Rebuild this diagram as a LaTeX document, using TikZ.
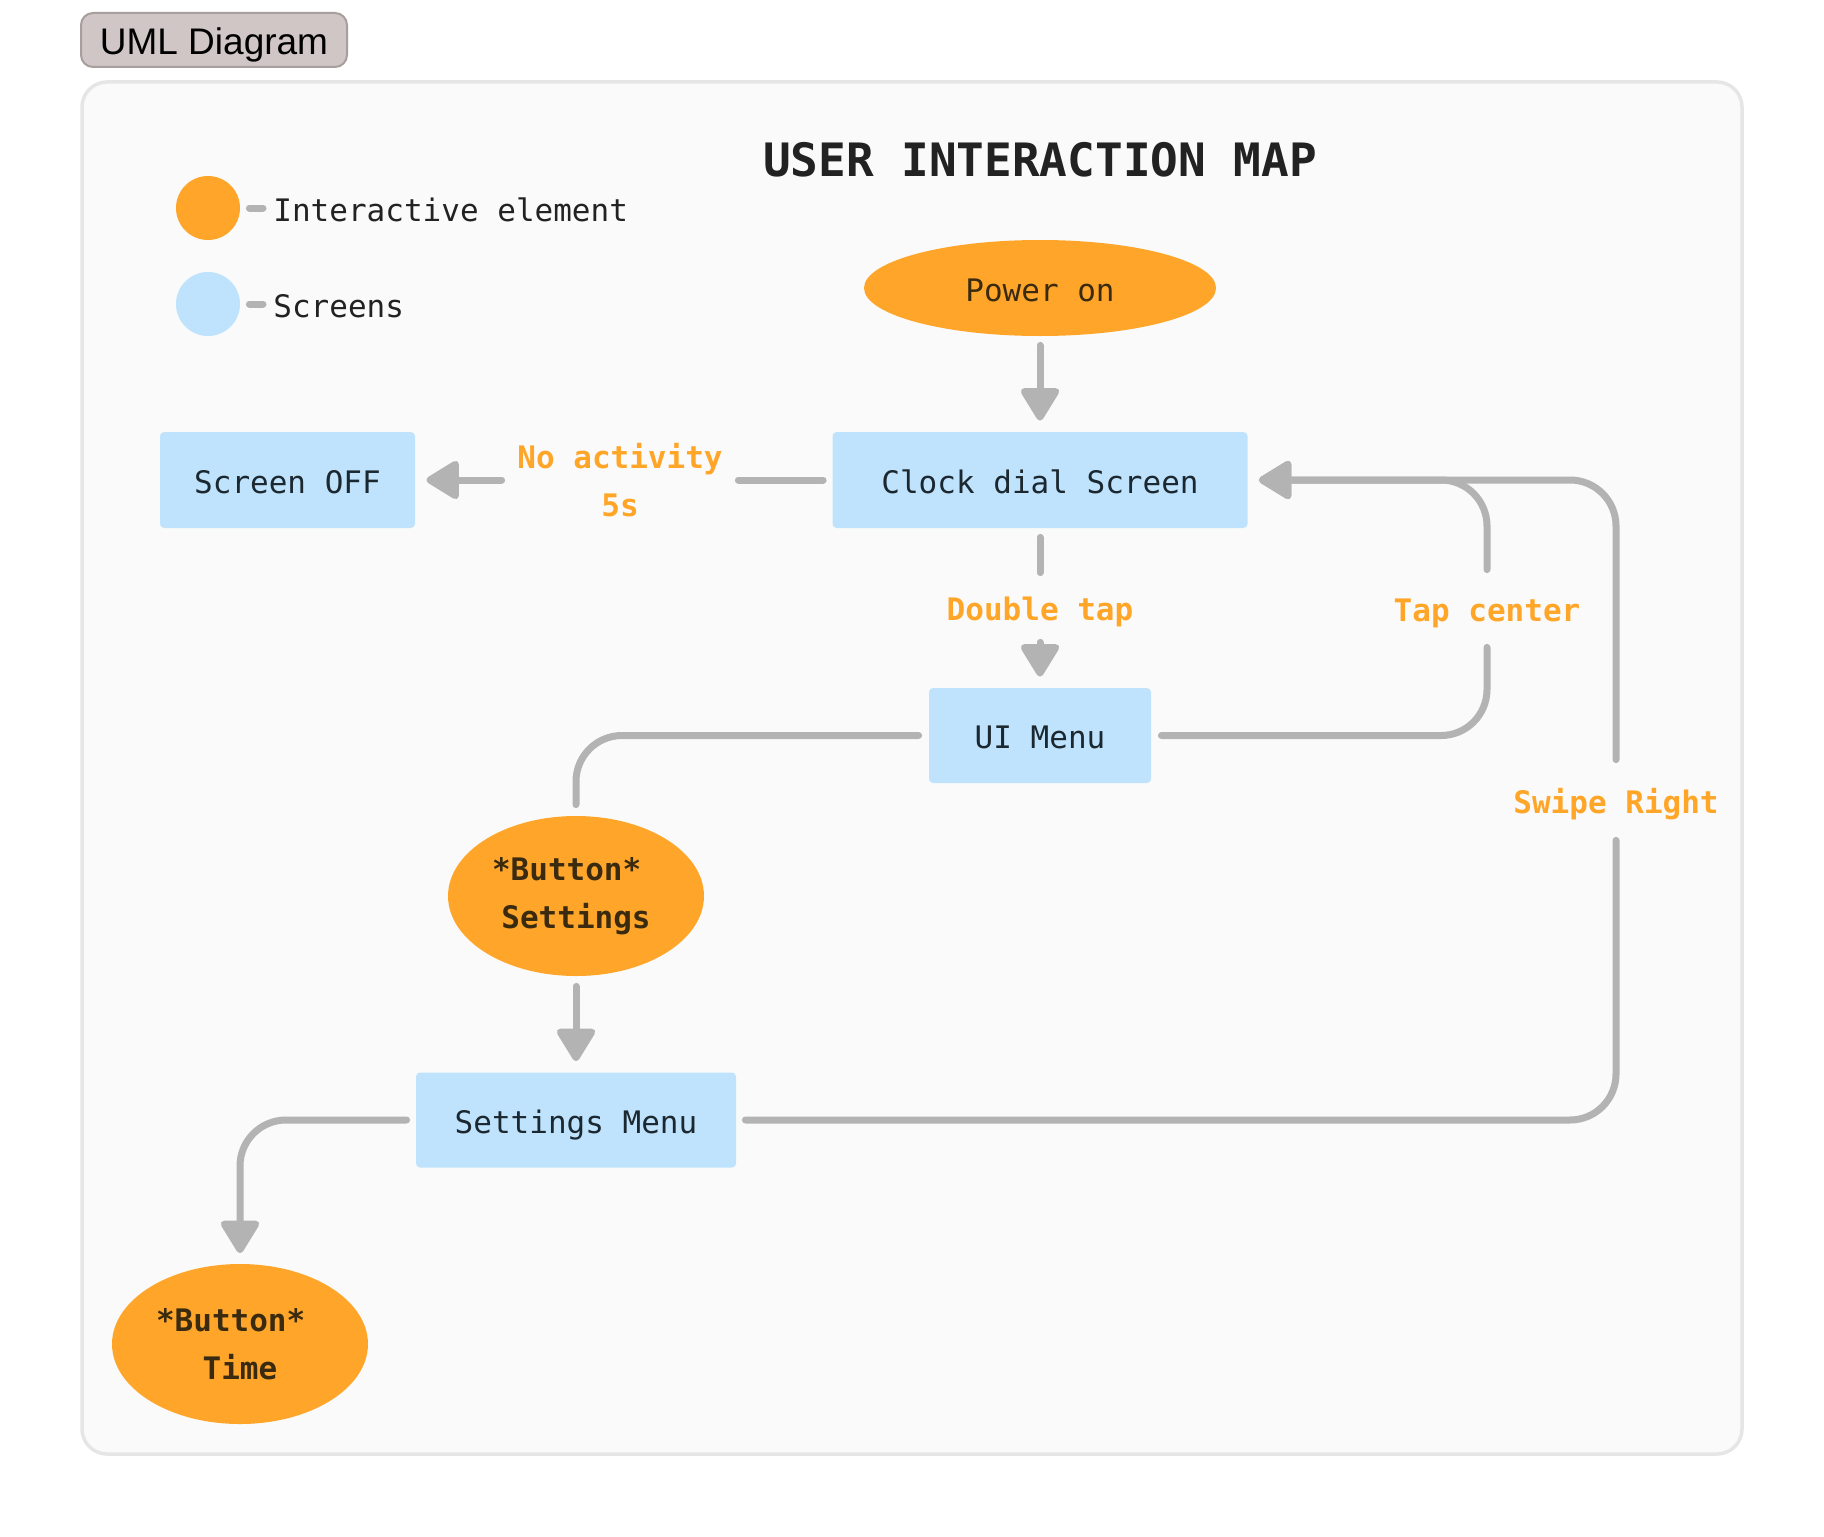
\documentclass[tikz,border=0pt]{standalone}
\usepackage{fontspec}
\setmonofont{DejaVu Sans Mono}
\newfontfamily\tabfont{Liberation Sans}
\usepackage{tikz}
\usetikzlibrary{
  arrows.meta,%
  % ellipse nodes
  shapes.geometric,%
  calc
}
\definecolor{panelbg}{HTML}{FAFAFA}
\definecolor{panelline}{HTML}{E6E6E6}
\definecolor{tabfill}{HTML}{D1C6C6}
\definecolor{tabline}{HTML}{A99E9E}
\definecolor{actorange}{HTML}{FFA62A}
\definecolor{lblorange}{HTML}{FFA629}
\definecolor{screenblue}{HTML}{BFE3FD}
\definecolor{linkgray}{HTML}{B3B3B3}
\definecolor{inktext}{HTML}{222222}
\definecolor{screentext}{HTML}{1C2830}
\definecolor{acttext}{HTML}{3A2A10}

\tikzset{>={Triangle[length=18pt, width=21pt, round]}}
\tikzset{font=\ttfamily\fontsize{15.5}{24}\selectfont}
\tikzset{
  panel/.style={fill=panelbg, draw=panelline, line width=1.75pt, rounded corners=12.5pt},
  tab/.style={rectangle, rounded corners=6pt, fill=tabfill, draw=tabline, line width=1pt,
    minimum width=133pt, minimum height=27pt, inner sep=0pt,
    font=\tabfont\fontsize{18.5}{20}\selectfont, text height=15pt, text depth=0pt},
  title/.style={text=inktext, inner sep=0pt, font=\ttfamily\bfseries\fontsize{23}{28}\selectfont},
  keydot/.style={circle, minimum size=32pt, inner sep=0pt},
  keytext/.style={text=inktext, inner sep=0pt, anchor=west, text height=14pt, text depth=1pt},
  link/.style={draw=linkgray, line width=3.5pt, line cap=round, rounded corners=23pt},
  screen/.style={rectangle, rounded corners=2pt, fill=screenblue, text=screentext,
    inner sep=0pt, text height=14pt, text depth=1pt},
  action/.style={ellipse, fill=actorange, text=acttext, inner sep=0pt, align=center,
    font=\ttfamily\bfseries\fontsize{15.5}{24}\selectfont},
  lbl/.style={text=lblorange, inner sep=0pt, font=\ttfamily\bfseries\fontsize{15.5}{24}\selectfont},
  gap/.style={text height=14pt, text depth=1pt}
}

\begin{document}
\begin{tikzpicture}[x=0.5pt, y=-0.5pt]
  \useasboundingbox (0,0) rectangle (1824,1536);
  \draw[panel] (82,82) rectangle (1742,1454);
  \node[tab] (tab) at (214,40) {UML Diagram};
  \node[title, anchor=base] (title) at (1040,176) {USER INTERACTION MAP};

  % legend
  \node[keydot, fill=actorange] (keyAct) at (208,208) {};
  \node[keytext] (keyActTxt) at (273,208) {Interactive element};
  \node[keydot, fill=screenblue] (keyScr) at (208,304) {};
  \node[keytext] (keyScrTxt) at (273,304) {Screens};
  \draw[link, shorten <=4.5pt, shorten >=5pt] (keyAct.east) -- (keyActTxt.west);
  \draw[link, shorten <=4.5pt, shorten >=5pt] (keyScr.east) -- (keyScrTxt.west);

  % states
  \node[action, minimum width=176pt, minimum height=48pt, font=\ttfamily\fontsize{15.5}{24}\selectfont,
    text height=14pt, text depth=1pt] (power) at (1040,288) {Power on};
  \node[screen, minimum width=207.5pt, minimum height=48pt] (clock) at (1040,480) {Clock dial Screen};
  \node[screen, minimum width=127.5pt, minimum height=48pt] (off) at (287.5,480) {Screen OFF};
  \node[screen, minimum width=111pt, minimum height=47.5pt] (ui) at (1040,735.5) {UI Menu};
  \node[action, minimum width=128pt, minimum height=80pt] (setBtn) at (576,896) {*Button*\hphantom{x}\\Settings};
  \node[screen, minimum width=160pt, minimum height=47.5pt] (setMenu) at (576,1120) {Settings Menu};
  \node[action, minimum width=128pt, minimum height=80pt] (timeBtn) at (240,1344) {*Button*\hphantom{x}\\Time};

  % transition labels
  \node[lbl, align=center, minimum width=118pt] (lblOff) at (620,480) {No activity\\5s};
  \node[lbl, gap, minimum height=34.5pt] (lblDbl) at (1040,607.5) {Double tap};
  \node[lbl, gap, minimum height=38.5pt] (lblTap) at (1487,608.5) {Tap center};
  \node[lbl, gap, minimum height=40pt] (lblSwipe) at (1616,800) {Swipe Right};

  % transitions
  \draw[link, ->, shorten <=4.5pt, shorten >=5.5pt] (power) -- (clock);
  \draw[link, shorten <=4.5pt] (clock.west) -- (lblOff.east);
  \draw[link, ->, shorten >=5.5pt] (lblOff.west) -- (off.east);
  \draw[link, shorten <=4.5pt] (clock.south) -- (lblDbl.north);
  \draw[link, ->, shorten >=5.5pt] (lblDbl.south) -- (ui.north);
  \draw[link, shorten <=5pt] (ui.east) -| (lblTap.south);
  \draw[link, ->, shorten >=5.5pt] (lblTap.north) |- (clock.east);
  \draw[link, shorten <=4.5pt] (setMenu.east) -| (lblSwipe.south);
  \draw[link, ->, shorten >=5.5pt] (lblSwipe.north) |- (clock.east);
  \draw[link, shorten <=5pt, shorten >=5.5pt] (ui.west) -| (setBtn.north);
  \draw[link, ->, shorten <=5pt, shorten >=5.5pt] (setBtn) -- (setMenu);
  \draw[link, ->, shorten <=4.5pt, shorten >=5.25pt] (setMenu.west) -| (timeBtn.north);
\end{tikzpicture}
\end{document}
